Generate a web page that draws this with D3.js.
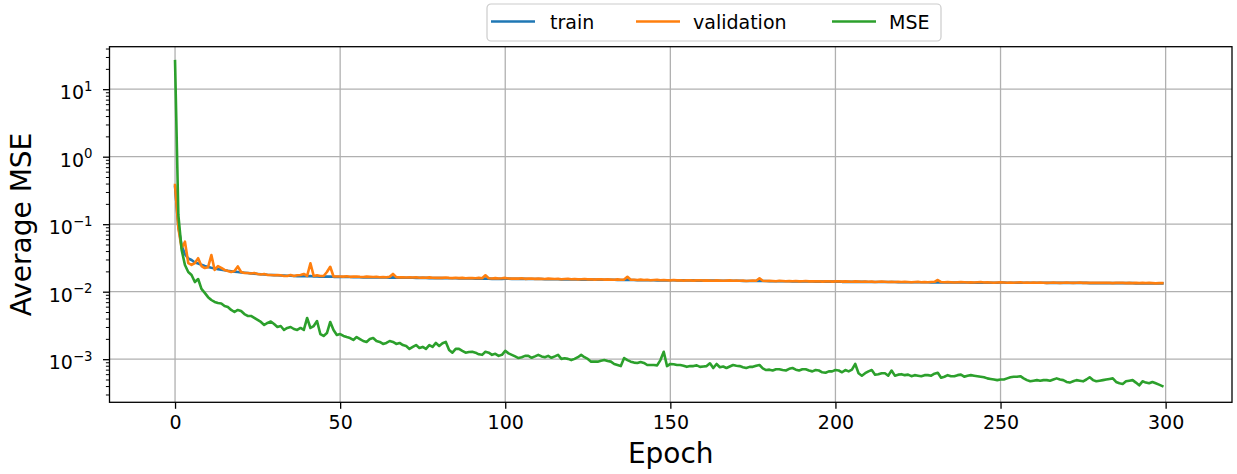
<!DOCTYPE html>
<html>
<head>
<meta charset="utf-8">
<script src="https://cdn.jsdelivr.net/npm/d3@7"></script>
<style>
  html, body { margin: 0; padding: 0; background: #fff; }
  svg { display: block; font-family: "DejaVu Sans", sans-serif; }
</style>
</head>
<body>
<svg id="chart" width="1237" height="474"></svg>
<script>
// Per-epoch losses (epochs 0..299)
const trainLoss = [
  0.36, 0.092, 0.048, 0.036, 0.031, 0.0295, 0.0270, 0.0262, 0.0250, 0.0240,
  0.0232, 0.0226, 0.0221, 0.0216, 0.0212, 0.0208, 0.0204, 0.0201, 0.0198, 0.0196,
  0.0193, 0.0191, 0.0189, 0.0187, 0.0185, 0.0183, 0.0181, 0.0180, 0.0178, 0.0177,
  0.0176, 0.0175, 0.0174, 0.0173, 0.0172, 0.0172, 0.0171, 0.0170, 0.0170, 0.0169,
  0.0169, 0.0171, 0.0168, 0.0168, 0.0167, 0.0167, 0.0167, 0.0168, 0.0166, 0.0166,
  0.0166, 0.0165, 0.0165, 0.0165, 0.0164, 0.0164, 0.0164, 0.0163, 0.0163, 0.0163,
  0.0163, 0.0162, 0.0162, 0.0162, 0.0162, 0.0161, 0.0163, 0.0161, 0.0161, 0.0161,
  0.0161, 0.0161, 0.0161, 0.0160, 0.0160, 0.0160, 0.0160, 0.0159, 0.0159, 0.0159,
  0.0159, 0.0159, 0.0158, 0.0158, 0.0158, 0.0158, 0.0157, 0.0157, 0.0157, 0.0157,
  0.0157, 0.0156, 0.0156, 0.0156, 0.0157, 0.0156, 0.0155, 0.0155, 0.0155, 0.0155,
  0.0156, 0.0156, 0.0155, 0.0155, 0.0155, 0.0155, 0.0155, 0.0154, 0.0154, 0.0154,
  0.0154, 0.0154, 0.0153, 0.0153, 0.0153, 0.0153, 0.0153, 0.0152, 0.0152, 0.0152,
  0.0152, 0.0152, 0.0152, 0.0151, 0.0151, 0.0151, 0.0151, 0.0151, 0.0150, 0.0150,
  0.0150, 0.0150, 0.0150, 0.0150, 0.0149, 0.0149, 0.0149, 0.0151, 0.0149, 0.0149,
  0.0148, 0.0148, 0.0148, 0.0148, 0.0148, 0.0148, 0.0147, 0.0147, 0.0147, 0.0147,
  0.0148, 0.0148, 0.0147, 0.0147, 0.0147, 0.0147, 0.0147, 0.0147, 0.0146, 0.0146,
  0.0146, 0.0146, 0.0146, 0.0146, 0.0146, 0.0145, 0.0145, 0.0145, 0.0145, 0.0145,
  0.0145, 0.0145, 0.0144, 0.0144, 0.0144, 0.0144, 0.0144, 0.0146, 0.0144, 0.0144,
  0.0143, 0.0143, 0.0143, 0.0143, 0.0143, 0.0143, 0.0143, 0.0142, 0.0142, 0.0142,
  0.0142, 0.0142, 0.0142, 0.0142, 0.0141, 0.0141, 0.0141, 0.0141, 0.0141, 0.0141,
  0.0141, 0.0141, 0.0140, 0.0140, 0.0140, 0.0140, 0.0140, 0.0140, 0.0140, 0.0140,
  0.0139, 0.0139, 0.0139, 0.0139, 0.0139, 0.0139, 0.0139, 0.0139, 0.0139, 0.0138,
  0.0138, 0.0138, 0.0138, 0.0138, 0.0138, 0.0138, 0.0138, 0.0138, 0.0138, 0.0137,
  0.0137, 0.0138, 0.0137, 0.0137, 0.0137, 0.0137, 0.0137, 0.0137, 0.0137, 0.0137,
  0.0137, 0.0136, 0.0136, 0.0136, 0.0136, 0.0136, 0.0136, 0.0136, 0.0136, 0.0136,
  0.0137, 0.0137, 0.0136, 0.0136, 0.0136, 0.0136, 0.0136, 0.0136, 0.0136, 0.0136,
  0.0136, 0.0136, 0.0136, 0.0136, 0.0135, 0.0135, 0.0135, 0.0135, 0.0135, 0.0135,
  0.0135, 0.0135, 0.0135, 0.0135, 0.0135, 0.0135, 0.0135, 0.0134, 0.0134, 0.0134,
  0.0134, 0.0134, 0.0134, 0.0134, 0.0134, 0.0134, 0.0134, 0.0134, 0.0134, 0.0134,
  0.0134, 0.0133, 0.0133, 0.0133, 0.0133, 0.0133, 0.0133, 0.0133, 0.0133, 0.0133
];

const validationLoss = [
  0.38, 0.088, 0.044, 0.055, 0.0266, 0.0249, 0.0266, 0.0313, 0.0240, 0.0224,
  0.0231, 0.0349, 0.0210, 0.0240, 0.0226, 0.0210, 0.0203, 0.0196, 0.0203, 0.0237,
  0.0196, 0.0189, 0.0189, 0.0186, 0.0189, 0.0183, 0.0180, 0.0183, 0.0177, 0.0177,
  0.0175, 0.0177, 0.0175, 0.0171, 0.0171, 0.0177, 0.0171, 0.0175, 0.0177, 0.0183,
  0.0171, 0.0264, 0.0171, 0.0175, 0.0171, 0.0171, 0.0196, 0.0234, 0.0168, 0.0168,
  0.0168, 0.0167, 0.0169, 0.0166, 0.0167, 0.0168, 0.0166, 0.0165, 0.0167, 0.0166,
  0.0165, 0.0166, 0.0164, 0.0165, 0.0164, 0.0166, 0.0183, 0.0164, 0.0163, 0.0164,
  0.0162, 0.0163, 0.0162, 0.0164, 0.0161, 0.0162, 0.0161, 0.0163, 0.0161, 0.0160,
  0.0161, 0.0160, 0.0162, 0.0160, 0.0159, 0.0161, 0.0159, 0.0160, 0.0158, 0.0159,
  0.0159, 0.0158, 0.0160, 0.0158, 0.0175, 0.0158, 0.0157, 0.0159, 0.0157, 0.0158,
  0.0160, 0.0157, 0.0156, 0.0157, 0.0156, 0.0158, 0.0155, 0.0156, 0.0157, 0.0155,
  0.0156, 0.0155, 0.0154, 0.0156, 0.0155, 0.0154, 0.0155, 0.0153, 0.0154, 0.0155,
  0.0153, 0.0154, 0.0152, 0.0153, 0.0154, 0.0152, 0.0153, 0.0151, 0.0152, 0.0153,
  0.0151, 0.0152, 0.0151, 0.0150, 0.0152, 0.0150, 0.0151, 0.0166, 0.0150, 0.0150,
  0.0149, 0.0151, 0.0149, 0.0150, 0.0148, 0.0149, 0.0150, 0.0148, 0.0149, 0.0148,
  0.0147, 0.0149, 0.0147, 0.0148, 0.0146, 0.0148, 0.0147, 0.0146, 0.0147, 0.0148,
  0.0146, 0.0147, 0.0146, 0.0145, 0.0147, 0.0146, 0.0145, 0.0146, 0.0147, 0.0145,
  0.0146, 0.0145, 0.0146, 0.0144, 0.0145, 0.0146, 0.0145, 0.0158, 0.0145, 0.0144,
  0.0145, 0.0144, 0.0143, 0.0145, 0.0144, 0.0143, 0.0144, 0.0143, 0.0144, 0.0142,
  0.0143, 0.0144, 0.0142, 0.0143, 0.0142, 0.0143, 0.0141, 0.0142, 0.0143, 0.0141,
  0.0142, 0.0143, 0.0141, 0.0142, 0.0141, 0.0140, 0.0142, 0.0141, 0.0140, 0.0141,
  0.0140, 0.0141, 0.0139, 0.0140, 0.0141, 0.0140, 0.0139, 0.0140, 0.0139, 0.0140,
  0.0139, 0.0140, 0.0139, 0.0138, 0.0139, 0.0140, 0.0138, 0.0139, 0.0138, 0.0139,
  0.0140, 0.0149, 0.0139, 0.0138, 0.0139, 0.0138, 0.0137, 0.0138, 0.0139, 0.0138,
  0.0137, 0.0138, 0.0137, 0.0138, 0.0139, 0.0137, 0.0138, 0.0137, 0.0136, 0.0137,
  0.0138, 0.0137, 0.0136, 0.0137, 0.0136, 0.0137, 0.0138, 0.0136, 0.0137, 0.0136,
  0.0137, 0.0136, 0.0137, 0.0136, 0.0135, 0.0136, 0.0137, 0.0136, 0.0135, 0.0136,
  0.0137, 0.0136, 0.0135, 0.0136, 0.0137, 0.0135, 0.0136, 0.0135, 0.0136, 0.0135,
  0.0136, 0.0135, 0.0136, 0.0135, 0.0134, 0.0135, 0.0136, 0.0135, 0.0134, 0.0135,
  0.0134, 0.0135, 0.0134, 0.0135, 0.0134, 0.0135, 0.0134, 0.0133, 0.0134, 0.0134
];

const mseValues = [
  26.0, 0.137, 0.0415, 0.0249, 0.0196, 0.0177, 0.0139, 0.0154, 0.0110, 0.0096,
  0.0083, 0.00753, 0.00704, 0.00680, 0.00670, 0.00614, 0.00593, 0.00536, 0.00500, 0.00536,
  0.00518, 0.00467, 0.00437, 0.00437, 0.00408, 0.00381, 0.00356, 0.00321, 0.00344, 0.00362,
  0.00332, 0.00300, 0.00310, 0.00271, 0.00290, 0.00300, 0.00280, 0.00271, 0.00290, 0.00271,
  0.00408, 0.00290, 0.00310, 0.00368, 0.00236, 0.00221, 0.00244, 0.00356, 0.00271, 0.00228,
  0.00236, 0.00221, 0.00213, 0.00206, 0.00193, 0.00213, 0.00199, 0.00186, 0.00180, 0.00199,
  0.00206, 0.00186, 0.00180, 0.00168, 0.00174, 0.00186, 0.00180, 0.00168, 0.00174, 0.00162,
  0.00157, 0.00142, 0.00152, 0.00162, 0.00147, 0.00152, 0.00142, 0.00162, 0.00152, 0.00174,
  0.00157, 0.00172, 0.00180, 0.00137, 0.00125, 0.00142, 0.00142, 0.00133, 0.00125, 0.00128,
  0.00129, 0.00125, 0.00118, 0.00116, 0.00129, 0.00125, 0.00116, 0.00120, 0.00112, 0.00116,
  0.00133, 0.00122, 0.00116, 0.00110, 0.00104, 0.00107, 0.00112, 0.00112, 0.00105, 0.00110,
  0.00116, 0.00110, 0.00107, 0.00112, 0.00105, 0.00110, 0.00116, 0.00101, 0.00103, 0.00101,
  0.00097, 0.00101, 0.00107, 0.00116, 0.00107, 0.00101, 0.00092, 0.00092, 0.00092, 0.00095,
  0.00097, 0.00094, 0.00092, 0.00085, 0.00082, 0.00079, 0.00104, 0.00097, 0.00092, 0.00089,
  0.00088, 0.00091, 0.00088, 0.00082, 0.00082, 0.00082, 0.00081, 0.00097, 0.00129, 0.00079,
  0.00085, 0.00084, 0.00082, 0.00082, 0.00080, 0.00077, 0.00079, 0.00079, 0.00081, 0.00077,
  0.00078, 0.00079, 0.00087, 0.00074, 0.00085, 0.00076, 0.00078, 0.00074, 0.00078, 0.00082,
  0.00080, 0.00079, 0.00076, 0.00074, 0.00077, 0.00077, 0.00080, 0.00082, 0.00073, 0.00069,
  0.00070, 0.00068, 0.00071, 0.00071, 0.00069, 0.00068, 0.00072, 0.00074, 0.00070, 0.00068,
  0.00071, 0.00071, 0.00068, 0.00066, 0.00069, 0.00068, 0.00064, 0.00063, 0.00066, 0.00066,
  0.00069, 0.00068, 0.00064, 0.00069, 0.00066, 0.00070, 0.00085, 0.00062, 0.00057, 0.00062,
  0.00066, 0.00069, 0.00059, 0.00060, 0.00062, 0.00062, 0.00057, 0.00068, 0.00057, 0.00059,
  0.00060, 0.00058, 0.00059, 0.00056, 0.00058, 0.00057, 0.00056, 0.00058, 0.00058, 0.00057,
  0.00061, 0.00063, 0.00053, 0.00055, 0.00058, 0.00056, 0.00056, 0.00058, 0.00059, 0.00055,
  0.00057, 0.00058, 0.00057, 0.00056, 0.00055, 0.00054, 0.00052, 0.00051, 0.00050, 0.00049,
  0.00050, 0.00050, 0.00052, 0.00054, 0.00055, 0.00055, 0.00056, 0.00052, 0.00049, 0.00047,
  0.00048, 0.00049, 0.00048, 0.00049, 0.00049, 0.00048, 0.00050, 0.00052, 0.00050, 0.00049,
  0.00046, 0.00045, 0.00047, 0.00049, 0.00048, 0.00047, 0.00050, 0.00054, 0.00049, 0.00047,
  0.00048, 0.00049, 0.00050, 0.00051, 0.00052, 0.00046, 0.00044, 0.00043, 0.00047, 0.00048,
  0.00049, 0.00045, 0.00041, 0.00047, 0.00045, 0.00044, 0.00046, 0.00044, 0.00042, 0.00040
];

const epochs = d3.range(trainLoss.length);
const xTickValues = [0, 50, 100, 150, 200, 250, 300];
const yTickExponents = [-3, -2, -1, 0, 1];
const seriesNames = ["train", "validation", "MSE"];

// Appearance
const seriesColors = ["#1f77b4", "#ff7f0e", "#2ca02c"];
const plot = { left: 109.5, top: 46.7, right: 1232, bottom: 402.3 };
const tickFont = 19;
const labelFont = 28;

const svg = d3.select("#chart");

const x = d3.scaleLinear().domain([-19.85, 320.1]).range([plot.left, plot.right]);
const y = d3.scaleLog().domain([2.298e-4, 42.6]).range([plot.bottom, plot.top]);

const majorY = yTickExponents.map(e => Math.pow(10, e));
const minorY = [];
for (let e = -4; e <= 1; e++) {
  for (let m = 2; m <= 9; m++) {
    const v = m * Math.pow(10, e);
    if (v >= y.domain()[0] && v <= y.domain()[1]) minorY.push(v);
  }
}

// Grid
const grid = svg.append("g").attr("stroke", "#b0b0b0").attr("stroke-width", 1.3);
grid.selectAll(".gx").data(xTickValues).join("line")
  .attr("x1", d => x(d)).attr("x2", d => x(d))
  .attr("y1", plot.top).attr("y2", plot.bottom);
grid.selectAll(".gy").data(majorY).join("line")
  .attr("x1", plot.left).attr("x2", plot.right)
  .attr("y1", d => y(d)).attr("y2", d => y(d));

// Series
svg.append("clipPath").attr("id", "plotClip").append("rect")
  .attr("x", plot.left).attr("y", plot.top)
  .attr("width", plot.right - plot.left).attr("height", plot.bottom - plot.top);

const line = d3.line().x((d, i) => x(epochs[i])).y(d => y(d));
const seriesData = [trainLoss, validationLoss, mseValues];
svg.append("g").attr("clip-path", "url(#plotClip)")
  .selectAll("path").data(seriesData).join("path")
  .attr("d", line)
  .attr("fill", "none")
  .attr("stroke", (d, i) => seriesColors[i])
  .attr("stroke-width", 2.6)
  .attr("stroke-linejoin", "round")
  .attr("stroke-linecap", "square");

// Axes
const xAxis = d3.axisBottom(x).tickValues(xTickValues).tickSize(6.5).tickPadding(7).tickFormat(d3.format("d"));
const gx = svg.append("g").attr("transform", `translate(0,${plot.bottom})`).call(xAxis);
gx.select(".domain").remove();
gx.selectAll(".tick line").attr("stroke", "#000").attr("stroke-width", 1.3);
gx.selectAll(".tick text").attr("font-size", tickFont).attr("font-family", "DejaVu Sans").attr("fill", "#000");

const yMinorAxis = d3.axisLeft(y).tickValues(minorY).tickSize(3.6).tickFormat("");
const gym = svg.append("g").attr("transform", `translate(${plot.left},0)`).call(yMinorAxis);
gym.select(".domain").remove();
gym.selectAll(".tick line").attr("stroke", "#000").attr("stroke-width", 1);

const yAxis = d3.axisLeft(y).tickValues(majorY).tickSize(6.5).tickFormat("");
const gy = svg.append("g").attr("transform", `translate(${plot.left},0)`).call(yAxis);
gy.select(".domain").remove();
gy.selectAll(".tick line").attr("stroke", "#000").attr("stroke-width", 1.3);
gy.selectAll(".tick").each(function (d) {
  const exp = Math.round(Math.log10(d));
  const t = d3.select(this).select("text")
    .attr("x", -17).attr("dy", null).attr("y", 9.5)
    .attr("font-size", tickFont).attr("font-family", "DejaVu Sans")
    .attr("fill", "#000").attr("text-anchor", "end");
  t.text(null);
  t.append("tspan").text("10");
  t.append("tspan").attr("font-size", tickFont * 0.7).attr("dy", -8.5)
    .text(exp < 0 ? "\u2212" + Math.abs(exp) : String(exp));
});

// Frame
svg.append("rect")
  .attr("x", plot.left).attr("y", plot.top)
  .attr("width", plot.right - plot.left).attr("height", plot.bottom - plot.top)
  .attr("fill", "none").attr("stroke", "#000").attr("stroke-width", 1.3);

// Axis titles
svg.append("text")
  .attr("x", (plot.left + plot.right) / 2).attr("y", 463)
  .attr("text-anchor", "middle").attr("font-size", labelFont)
  .attr("font-family", "DejaVu Sans").attr("fill", "#000")
  .text("Epoch");
svg.append("text")
  .attr("transform", `translate(31,${(plot.top + plot.bottom) / 2}) rotate(-90)`)
  .attr("text-anchor", "middle").attr("font-size", labelFont)
  .attr("font-family", "DejaVu Sans").attr("fill", "#000")
  .text("Average MSE");

// Legend
const legend = svg.append("g");
legend.append("rect")
  .attr("x", 487).attr("y", 4).attr("width", 454).attr("height", 37).attr("rx", 4)
  .attr("fill", "#fff").attr("fill-opacity", 0.8)
  .attr("stroke", "#cccccc").attr("stroke-width", 1.2);
const legendX = [491, 636, 832];
const legendTextX = [550, 693, 889];
seriesNames.forEach((name, i) => {
  legend.append("line")
    .attr("x1", legendX[i]).attr("x2", legendX[i] + 44)
    .attr("y1", 21.5).attr("y2", 21.5)
    .attr("stroke", seriesColors[i]).attr("stroke-width", 2.6);
  legend.append("text")
    .attr("x", legendTextX[i]).attr("y", 28.5)
    .attr("font-size", tickFont).attr("font-family", "DejaVu Sans").attr("fill", "#000")
    .text(name);
});
</script>
</body>
</html>
